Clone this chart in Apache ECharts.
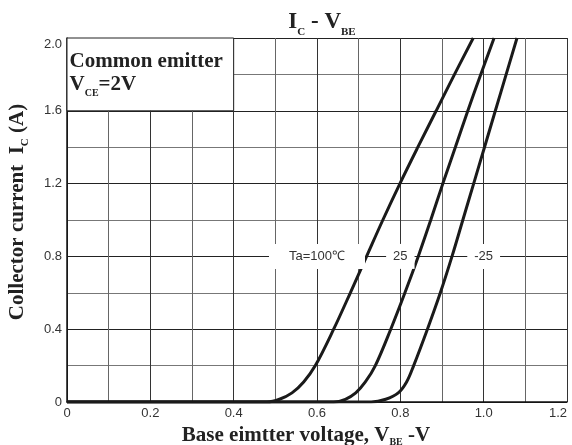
<!DOCTYPE html>
<html>
<head>
<meta charset="utf-8">
<script src="https://cdn.jsdelivr.net/npm/echarts@6/dist/echarts.min.js"></script>
<style>
  html, body { margin: 0; padding: 0; background: #fff; }
  #chart { width: 572px; height: 445px; }
</style>
</head>
<body>
<div id="chart"></div>
<script>
  // 曲线数据 [Vbe, Ic]
  var ta100 = [[0, 0], [0.48, 0], [0.51, 0.015], [0.54, 0.05], [0.568, 0.11], [0.596, 0.2],
    [0.64, 0.4], [0.68, 0.6], [0.719, 0.8], [0.758, 1.0], [0.799, 1.2], [0.842, 1.4], [0.886, 1.6], [0.93, 1.8], [0.975, 2.0]];
  var ta25 = [[0, 0], [0.64, 0], [0.668, 0.015], [0.693, 0.05], [0.716, 0.11], [0.74, 0.2],
    [0.777, 0.4], [0.811, 0.6], [0.843, 0.8], [0.873, 1.0], [0.902, 1.2], [0.932, 1.4], [0.962, 1.6], [0.993, 1.8], [1.025, 2.0]];
  var taM25 = [[0, 0], [0.73, 0], [0.765, 0.015], [0.795, 0.05], [0.815, 0.11], [0.832, 0.2],
    [0.865, 0.4], [0.896, 0.6], [0.924, 0.8], [0.95, 1.0], [0.976, 1.2], [1.002, 1.4], [1.028, 1.6], [1.054, 1.8], [1.08, 2.0]];
  var curveLabels = ['Ta=100℃', '25', '-25'];
  var labelX = [0.6, 0.8, 1.0];
  var labelY = 0.8;

  var serif = '"Liberation Serif", "DejaVu Serif", serif';
  var sans = '"Liberation Sans", Arial, sans-serif';

  function curve(data, idx) {
    return {
      type: 'line',
      data: data,
      smooth: 0.35,
      symbol: 'none',
      lineStyle: { color: '#1a1a1a', width: 3 },
      markPoint: {
        symbol: 'rect',
        symbolSize: 0,
        data: [{ coord: [labelX[idx], labelY] }],
        label: {
          show: true,
          formatter: curveLabels[idx],
          color: '#333',
          fontFamily: sans,
          fontSize: 13,
          backgroundColor: '#fff',
          padding: idx === 0 ? [6, 20] : [6, 7]
        }
      }
    };
  }

  var chart = echarts.init(document.getElementById('chart'));
  var series = [curve(ta100, 0), curve(ta25, 1), curve(taM25, 2)];
  // 左上角说明框
  series[0].markArea = {
    silent: true,
    itemStyle: { color: '#fff', borderColor: '#222', borderWidth: 1 },
    label: {
      show: true,
      position: 'insideTopLeft',
      offset: [-2, 10],
      formatter: '{b|Common emitter}\n{b|V}{s|CE}{b|=2V}',
      rich: {
        b: { fontFamily: serif, fontWeight: 'bold', fontSize: 21, color: '#222', lineHeight: 23, verticalAlign: 'bottom', padding: [0, 0, 3, 0] },
        s: { fontFamily: serif, fontWeight: 'bold', fontSize: 10, color: '#222', lineHeight: 23, verticalAlign: 'bottom' }
      }
    },
    data: [[{ coord: [0, 2.0] }, { coord: [0.4, 1.6] }]]
  };

  chart.setOption({
    animation: false,
    backgroundColor: '#fff',
    title: {
      text: '{m|I}{s|C}{m| - V}{s|BE}',
      left: 317,
      textAlign: 'center',
      top: 6,
      textStyle: {
        rich: {
          m: { fontFamily: serif, fontWeight: 'bold', fontSize: 23, color: '#222', verticalAlign: 'bottom', padding: [0, 0, 4, 0] },
          s: { fontFamily: serif, fontWeight: 'bold', fontSize: 11, color: '#222', verticalAlign: 'bottom' }
        }
      }
    },
    grid: { left: 67, right: 5, top: 38, bottom: 43, outerBoundsMode: 'none', containLabel: false },
    xAxis: {
      type: 'value',
      min: 0,
      max: 1.2,
      interval: 0.1,
      name: '{b|Base eimtter voltage, V}{s|BE}{b| -V}',
      nameLocation: 'middle',
      nameGap: 18,
      nameTextStyle: {
        padding: [0, 22, 0, 0],
        rich: {
          b: { fontFamily: serif, fontWeight: 'bold', fontSize: 21, color: '#222', verticalAlign: 'bottom', padding: [0, 0, 2, 0] },
          s: { fontFamily: serif, fontWeight: 'bold', fontSize: 10, color: '#222', verticalAlign: 'bottom' }
        }
      },
      axisLine: { lineStyle: { color: '#111', width: 1.5 } },
      axisTick: { show: false },
      axisLabel: {
        color: '#333',
        fontFamily: sans,
        fontSize: 13,
        margin: 5,
        alignMaxLabel: 'right',
        formatter: function (v) {
          var k = Math.round(v * 10);
          if (k % 2 !== 0) return '';
          return k === 0 ? '0' : v.toFixed(1);
        }
      },
      splitLine: { show: true, lineStyle: { color: ['#333', '#666'], width: 1 } }
    },
    yAxis: {
      type: 'value',
      min: 0,
      max: 2.0,
      interval: 0.2,
      name: '{b|Collector current  I}{s|C}{b| (A)}',
      nameLocation: 'middle',
      nameGap: 36,
      nameTextStyle: {
        padding: [0, 0, 0, 16],
        rich: {
          b: { fontFamily: serif, fontWeight: 'bold', fontSize: 21, color: '#222', verticalAlign: 'bottom', padding: [0, 0, 3, 0] },
          s: { fontFamily: serif, fontWeight: 'bold', fontSize: 11, color: '#222', verticalAlign: 'bottom' }
        }
      },
      axisLine: { show: true, lineStyle: { color: '#111', width: 1.5 } },
      axisTick: { show: false },
      axisLabel: {
        color: '#333',
        fontFamily: sans,
        fontSize: 13,
        margin: 5,
        verticalAlignMaxLabel: 'top',
        formatter: function (v) {
          var k = Math.round(v * 10);
          if (k % 4 !== 0) return '';
          return k === 0 ? '0' : v.toFixed(1);
        }
      },
      splitLine: { show: true, lineStyle: { color: ['#222', '#777'], width: 1 } }
    },
    series: series
  });
</script>
</body>
</html>
